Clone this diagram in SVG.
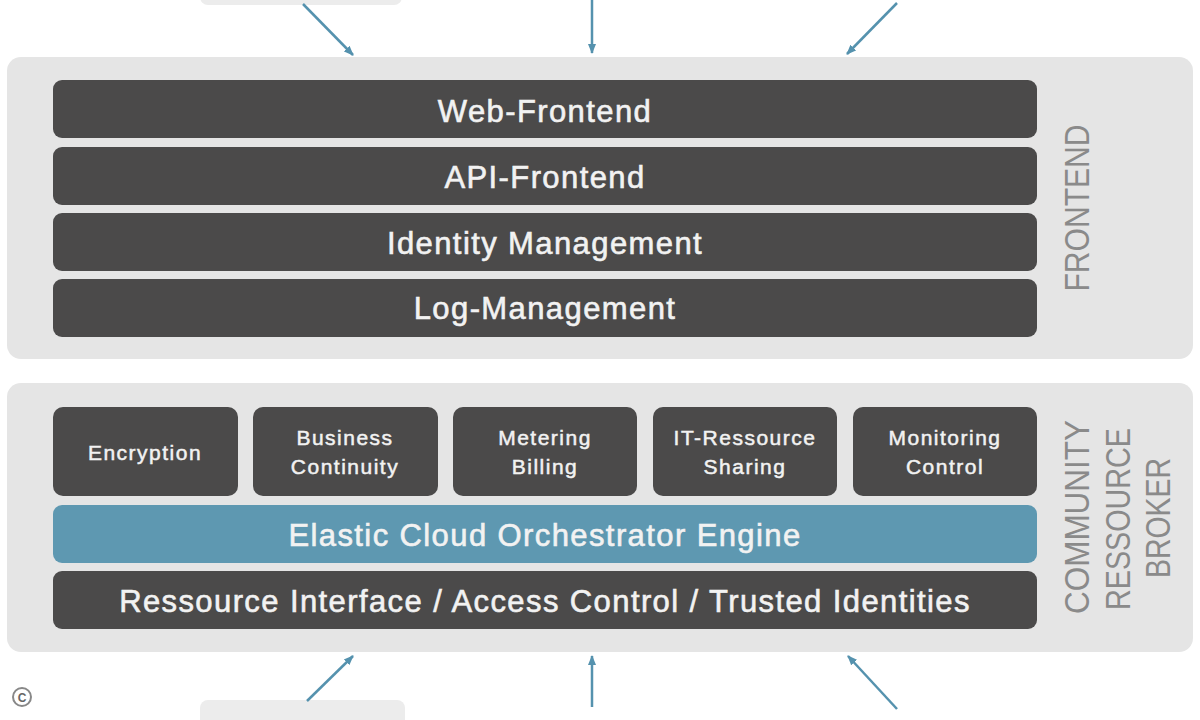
<svg xmlns="http://www.w3.org/2000/svg" width="1200" height="720" viewBox="0 0 1200 720">
<style>
.panel{fill:#e5e5e5}
.bar{fill:#4b4a4a}
.blue{fill:#5e98b1}
.ghost{fill:#ececec}
.t{font-family:"Liberation Sans",Arial,sans-serif;fill:#f2f2f2;stroke:#f2f2f2;text-anchor:middle}
.big{font-size:31px;letter-spacing:1.4px;stroke-width:0.6}
.small{font-size:21px;letter-spacing:1.5px;stroke-width:0.5}
.side{font-family:"Liberation Sans",Arial,sans-serif;fill:#8a8a8a;font-size:35px;text-anchor:middle}
.arrow{stroke:#5592ae;stroke-width:2.5;fill:none;marker-end:url(#ah)}
</style>
<defs>
<marker id="ah" viewBox="0 0 10 10" refX="9" refY="5" markerWidth="4" markerHeight="4" orient="auto">
<path d="M0,1 L10,5 L0,9 z" fill="#5592ae"/>
</marker>
</defs>
<rect width="1200" height="720" fill="#ffffff"/>
<g id="ghost-boxes">
<rect class="ghost" x="200" y="-20" width="202" height="25" rx="8"/>
<rect class="ghost" x="200" y="700" width="205" height="40" rx="8"/>
</g>
<g id="frontend">
<rect class="panel" x="7" y="57" width="1186" height="302" rx="14"/>
<text class="side" transform="translate(1089,208) rotate(-90)" textLength="167" lengthAdjust="spacingAndGlyphs">FRONTEND</text>
</g>
<g id="web-frontend"><rect class="bar" x="53" y="80" width="984" height="58" rx="9"/><text class="t big" x="545" y="122">Web-Frontend</text></g>
<g id="api-frontend"><rect class="bar" x="53" y="147" width="984" height="58" rx="9"/><text class="t big" x="545" y="188">API-Frontend</text></g>
<g id="identity"><rect class="bar" x="53" y="213" width="984" height="58" rx="9"/><text class="t big" x="545" y="254">Identity Management</text></g>
<g id="log"><rect class="bar" x="53" y="279" width="984" height="58" rx="9"/><text class="t big" x="545" y="319">Log-Management</text></g>
<g id="broker">
<rect class="panel" x="7" y="383" width="1186" height="269" rx="14"/>
<text class="side" transform="translate(1089,517) rotate(-90)" textLength="194" lengthAdjust="spacingAndGlyphs">COMMUNITY</text>
<text class="side" transform="translate(1130,519) rotate(-90)" textLength="182" lengthAdjust="spacingAndGlyphs">RESSOURCE</text>
<text class="side" transform="translate(1170,518) rotate(-90)" textLength="120" lengthAdjust="spacingAndGlyphs">BROKER</text>
</g>
<g id="encryption"><rect class="bar" x="53" y="407" width="185" height="89" rx="10"/><text class="t small" x="145" y="460">Encryption</text></g>
<g id="business"><rect class="bar" x="253" y="407" width="185" height="89" rx="10"/><text class="t small" x="345" y="445">Business</text><text class="t small" x="345" y="474">Continuity</text></g>
<g id="metering"><rect class="bar" x="453" y="407" width="184" height="89" rx="10"/><text class="t small" x="545" y="445">Metering</text><text class="t small" x="545" y="474">Billing</text></g>
<g id="it-sharing"><rect class="bar" x="653" y="407" width="184" height="89" rx="10"/><text class="t small" x="745" y="445">IT-Ressource</text><text class="t small" x="745" y="474">Sharing</text></g>
<g id="monitoring"><rect class="bar" x="853" y="407" width="184" height="89" rx="10"/><text class="t small" x="945" y="445">Monitoring</text><text class="t small" x="945" y="474">Control</text></g>
<g id="orchestrator"><rect class="blue" x="53" y="505" width="984" height="58" rx="9"/><text class="t big" x="545" y="546">Elastic Cloud Orchestrator Engine</text></g>
<g id="resource-interface"><rect class="bar" x="53" y="571" width="984" height="58" rx="9"/><text class="t big" x="545" y="612">Ressource Interface / Access Control / Trusted Identities</text></g>
<g id="connectors">
<line class="arrow" x1="303" y1="4" x2="353" y2="55"/>
<line class="arrow" x1="592" y1="0" x2="592" y2="53"/>
<line class="arrow" x1="897" y1="3" x2="847" y2="54"/>
<line class="arrow" x1="307" y1="701" x2="353" y2="656"/>
<line class="arrow" x1="592" y1="707" x2="592" y2="656"/>
<line class="arrow" x1="897" y1="709" x2="848" y2="656"/>
</g>
<g id="copyright">
<circle cx="22" cy="697" r="9" fill="#ffffff" stroke="#888" stroke-width="2"/>
<text x="22" y="701.5" font-family="Liberation Sans,Arial,sans-serif" font-size="12" font-weight="bold" fill="#666" text-anchor="middle">C</text>
</g>
</svg>
